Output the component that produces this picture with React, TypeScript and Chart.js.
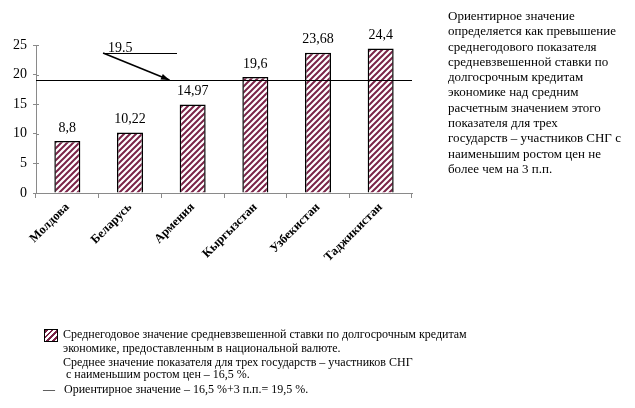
import React, { useEffect, useRef } from "react";
import { Chart, registerables } from "chart.js";

Chart.register(...registerables);

const categories = ["Молдова", "Беларусь", "Армения", "Кыргызстан", "Узбекистан", "Таджикистан"];
const rates = [8.8, 10.22, 14.97, 19.6, 23.68, 24.4];
const yTicks = [0, 5, 10, 15, 20, 25];
const referenceLevel = 19.1;
const referenceLabel = "19.5";
// annotation anchor points in (category index, value) units
const annotStart = { x: 0.57, y: 23.65 };
const annotEnd = { x: 1.63, y: referenceLevel };
const annotUnderlineEnd = { x: 1.75 };

const noteLines = [
  "Ориентирное значение",
  "определяется как превышение",
  "среднегодового показателя",
  "средневзвешенной ставки по",
  "долгосрочным кредитам",
  "экономике над средним",
  "расчетным значением этого",
  "показателя для трех",
  "государств – участников СНГ с",
  "наименьшим ростом цен не",
  "более чем на 3 п.п.",
];

const STRIPE = "#7a2448";
const AXIS = "#8a8a8a";
const SERIF = "'Liberation Serif', 'Times New Roman', serif";

function makePattern(): CanvasPattern | string {
  const c = document.createElement("canvas");
  c.width = 6;
  c.height = 6;
  const g = c.getContext("2d");
  if (!g) return "#fff";
  g.fillStyle = "#ffffff";
  g.fillRect(0, 0, 6, 6);
  g.strokeStyle = STRIPE;
  g.lineWidth = 2;
  g.beginPath();
  g.moveTo(-1, 7);
  g.lineTo(7, -1);
  g.moveTo(-4, 4);
  g.lineTo(4, -4);
  g.moveTo(2, 10);
  g.lineTo(10, 2);
  g.stroke();
  const p = g.createPattern(c, "repeat");
  return p || "#fff";
}

const overlayPlugin = {
  id: "overlay",
  afterDatasetsDraw(chart: any) {
    const ctx = chart.ctx;
    const ys = chart.scales.y;
    const area = chart.chartArea;
    const step = (area.right - area.left) / categories.length;
    const px = (i: number) => area.left + (i + 0.5) * step;

    ctx.save();
    // inner halves of the y ticks (ticks cross the axis)
    ctx.strokeStyle = AXIS;
    ctx.lineWidth = 1;
    yTicks.forEach((v) => {
      const y = Math.round(ys.getPixelForValue(v)) + 0.5;
      ctx.beginPath();
      ctx.moveTo(area.left, y);
      ctx.lineTo(area.left + 3, y);
      ctx.stroke();
    });

    // reference line
    const ry = ys.getPixelForValue(referenceLevel);
    ctx.strokeStyle = "#000";
    ctx.beginPath();
    ctx.moveTo(area.left, Math.round(ry) + 0.5);
    ctx.lineTo(area.right, Math.round(ry) + 0.5);
    ctx.stroke();

    // data labels
    ctx.fillStyle = "#000";
    ctx.font = `14px ${SERIF}`;
    ctx.textAlign = "center";
    ctx.textBaseline = "bottom";
    const meta = chart.getDatasetMeta(0);
    meta.data.forEach((bar: any, i: number) => {
      ctx.fillText(String(rates[i]).replace(".", ","), bar.x, bar.y - 6);
    });

    // annotation
    const sx = px(annotStart.x);
    const sy = ys.getPixelForValue(annotStart.y);
    const ex = px(annotEnd.x);
    const ey = ys.getPixelForValue(annotEnd.y);
    const ux = px(annotUnderlineEnd.x);
    ctx.lineWidth = 1;
    ctx.beginPath();
    ctx.moveTo(sx, Math.round(sy) + 0.5);
    ctx.lineTo(ux, Math.round(sy) + 0.5);
    ctx.stroke();
    ctx.lineWidth = 1.6;
    ctx.beginPath();
    ctx.moveTo(sx, sy);
    ctx.lineTo(ex, ey);
    ctx.stroke();
    const ang = Math.atan2(ey - sy, ex - sx);
    const ah = 9;
    ctx.beginPath();
    ctx.moveTo(ex, ey);
    ctx.lineTo(ex - ah * Math.cos(ang - 0.35), ey - ah * Math.sin(ang - 0.35));
    ctx.lineTo(ex - ah * Math.cos(ang + 0.35), ey - ah * Math.sin(ang + 0.35));
    ctx.closePath();
    ctx.fillStyle = "#000";
    ctx.fill();
    ctx.font = `14px ${SERIF}`;
    ctx.textAlign = "left";
    ctx.textBaseline = "alphabetic";
    ctx.fillText(referenceLabel, sx + 5, sy - 1);
    ctx.restore();
  },
};

export default function App() {
  const ref = useRef<HTMLCanvasElement | null>(null);
  useEffect(() => {
    if (!ref.current) return;
    const chart = new Chart(ref.current, {
      type: "bar",
      data: {
        labels: categories,
        datasets: [
          {
            data: rates,
            backgroundColor: makePattern() as any,
            borderColor: "#000",
            borderWidth: 1.5,
            barPercentage: 0.83,
            categoryPercentage: 0.5,
          },
        ],
      },
      options: {
        animation: false,
        responsive: true,
        maintainAspectRatio: false,
        layout: { padding: { top: 45, right: 223, bottom: 0, left: 0 } },
        plugins: { legend: { display: false }, tooltip: { enabled: false } },
        scales: {
          x: {
            afterFit: (s: any) => {
              s.height = 215;
            },
            border: { display: true, color: AXIS, width: 1 },
            grid: {
              display: true,
              drawOnChartArea: false,
              offset: true,
              tickLength: 5,
              color: AXIS,
            },
            ticks: {
              minRotation: 45,
              maxRotation: 45,
              padding: 2,
              color: "#000",
              font: { family: SERIF, size: 12.5, weight: "bold" },
            },
          },
          y: {
            min: 0,
            max: 25,
            afterFit: (s: any) => {
              s.width = 36;
            },
            afterBuildTicks: (s: any) => {
              s.ticks = yTicks.map((v) => ({ value: v }));
            },
            border: { display: true, color: AXIS, width: 1 },
            grid: {
              display: true,
              drawOnChartArea: false,
              tickLength: 3,
              color: AXIS,
            },
            ticks: {
              padding: 6,
              color: "#000",
              font: { family: SERIF, size: 14 },
            },
          },
        },
      },
      plugins: [overlayPlugin],
    });
    return () => chart.destroy();
  }, []);

  const textStyle: React.CSSProperties = {
    position: "absolute",
    fontFamily: SERIF,
    color: "#000",
    whiteSpace: "nowrap",
    margin: 0,
  };

  return (
    <div style={{ position: "fixed", left: 0, top: 0, width: 635, height: 408, background: "#fff" }}>
      <canvas ref={ref} />
      <div style={{ ...textStyle, left: 448, top: 8, fontSize: 13, lineHeight: "15.3px" }}>
        {noteLines.map((l, i) => (
          <div key={i}>{l}</div>
        ))}
      </div>
      <div
        style={{
          position: "absolute",
          left: 44,
          top: 329,
          width: 12,
          height: 11,
          border: "1.5px solid #000",
          background: `repeating-linear-gradient(-45deg, #fff 0px, #fff 2px, ${STRIPE} 2px, ${STRIPE} 4px)`,
        }}
      />
      <div style={{ ...textStyle, left: 63, top: 327, fontSize: 12, lineHeight: "14px" }}>
        Среднегодовое значение средневзвешенной ставки по долгосрочным кредитам
      </div>
      <div style={{ ...textStyle, left: 63, top: 341, fontSize: 12, lineHeight: "14px" }}>
        экономике, предоставленным в национальной валюте.
      </div>
      <div style={{ ...textStyle, left: 63, top: 355, fontSize: 12, lineHeight: "14px" }}>
        Среднее значение показателя для трех государств – участников СНГ
      </div>
      <div style={{ ...textStyle, left: 66, top: 367, fontSize: 12, lineHeight: "14px" }}>
        с наименьшим ростом цен – 16,5 %.
      </div>
      <div style={{ ...textStyle, left: 43, top: 382, fontSize: 12, lineHeight: "14px" }}>
        —&nbsp;&nbsp; Ориентирное значение – 16,5 %+3 п.п.= 19,5 %.
      </div>
    </div>
  );
}
